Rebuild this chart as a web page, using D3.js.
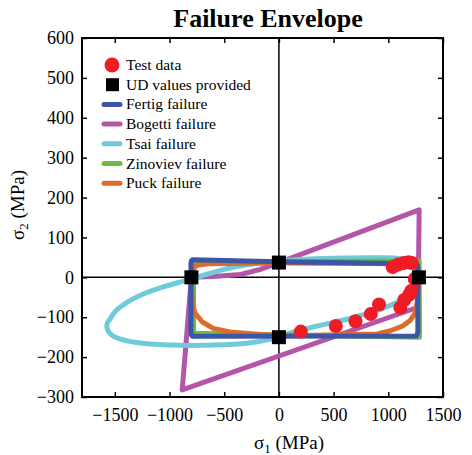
<!DOCTYPE html>
<html>
<head>
<meta charset="utf-8">
<script src="https://cdn.jsdelivr.net/npm/d3@7"></script>
<style>
    body { margin: 0; background: #fff; }
    text { font-family: "Liberation Serif", "Times New Roman", serif; fill: #000; }
</style>
</head>
<body>
<div id="chart"></div>
<script>
// data (MPa)
const testS1 = [200, 520, 700, 840, 915, 1110, 1145, 1190, 1210, 1242, 1040, 1090, 1140, 1185, 1215];
const testS2 = [-136, -122, -110, -92, -68, -76, -57, -44, -34, -4, 26, 32, 36, 38, 36];

const udS1 = [-800, 0, 0, 1280];
const udS2 = [0, 37, -150, 0];

const fertigS1 = [-790, 0, 1255, 1266, 1270, 1270, 1265, 1255, -790, -800, -804, -804, -800];
const fertigS2 = [44, 39, 34, 31, 24, -136, -143, -147, -148, -144, -136, 34, 41];

const bogettiS1 = [-800, -600, -350, -170, 0, 1282, 1272, -884];
const bogettiS2 = [0, 2, 7, 20, 37, 169, -75, -282];

const tsaiS1 = [1280, 1235, 1150, 1020, 820, 620, 320, 100, 0, -290, -676, -828, -1133, -1377, -1528,
    -1574, -1540, -1498, -1377, -1224, -1071, -920, -800, -500, -230, 0, 400, 900, 1100, 1200, 1255];
const tsaiS2 = [0, -30, -52, -70, -90, -105, -124, -140, -150, -165, -170, -171, -168, -160, -145,
    -120, -103, -86, -61, -40, -25, -13, -4, 20, 34, 41, 47, 49, 47, 38, 18];

const zinovievS1 = [-780, 1282, 1285, -780];
const zinovievS2 = [39, 41, -150, -140];

const puckS1 = [-800, -785, -750, -650, 0, 1200, 1265, 1276, 1272, 1265, 1245, 1200, 1130, 1020, 900, 0,
    -447, -600, -700, -765, -790, -800];
const puckS2 = [0, 22, 30, 34, 36, 34, 30, 0, -40, -60, -90, -108, -122, -134, -142, -147,
    -137, -128, -112, -90, -70, -30];

const xTicks = [-1500, -1000, -500, 0, 500, 1000, 1500];
const yTicks = [-300, -200, -100, 0, 100, 200, 300, 400, 500, 600];

const seriesNames = ["Test data", "UD values provided", "Fertig failure", "Bogetti failure",
    "Tsai failure", "Zinoviev failure", "Puck failure"];

// margin convention
const svgWidth = 472,
    svgHeight = 455,
    margin = { top: 38, right: 29, bottom: 58, left: 82 },
    width = svgWidth - margin.left - margin.right,
    height = svgHeight - margin.top - margin.bottom;

let svgRoot = d3.select("#chart").append("svg")
    .attr("width", svgWidth)
    .attr("height", svgHeight);
let svg = svgRoot.append("g")
    .attr("transform", `translate(${margin.left},${margin.top})`);

let xScale = d3.scaleLinear().domain([-1800, 1500]).range([0, width]);
let yScale = d3.scaleLinear().domain([-300, 600]).range([height, 0]);

// zero lines
svg.append("line")
    .attr("x1", 0).attr("x2", width)
    .attr("y1", yScale(0)).attr("y2", yScale(0))
    .attr("stroke", "#000").attr("stroke-width", 1.5);
svg.append("line")
    .attr("x1", xScale(0)).attr("x2", xScale(0))
    .attr("y1", 0).attr("y2", height)
    .attr("stroke", "#000").attr("stroke-width", 1.5);

// envelopes
const zipPts = (a, b) => a.map((v, i) => [v, b[i]]);
let lineClosed = d3.line()
    .x((d) => xScale(d[0]))
    .y((d) => yScale(d[1]))
    .curve(d3.curveLinearClosed);
let lineSmooth = d3.line()
    .x((d) => xScale(d[0]))
    .y((d) => yScale(d[1]))
    .curve(d3.curveCatmullRomClosed.alpha(0.5));

let curves = [
    { pts: zipPts(bogettiS1, bogettiS2), color: "#b456a8", gen: lineClosed },
    { pts: zipPts(tsaiS1, tsaiS2), color: "#6fcbdc", gen: lineSmooth },
    { pts: zipPts(zinovievS1, zinovievS2), color: "#6cbd45", gen: lineClosed },
    { pts: zipPts(puckS1, puckS2), color: "#dd6b2a", gen: lineClosed },
    { pts: zipPts(fertigS1, fertigS2), color: "#3b56a6", gen: lineClosed }
];
svg.selectAll("path.env")
    .data(curves)
    .join("path")
    .attr("class", "env")
    .attr("d", (d) => d.gen(d.pts))
    .attr("fill", "none")
    .attr("stroke", (d) => d.color)
    .attr("stroke-width", 5)
    .attr("stroke-linejoin", "round");

// test data
svg.selectAll("circle.test")
    .data(zipPts(testS1, testS2))
    .join("circle")
    .attr("class", "test")
    .attr("cx", (d) => xScale(d[0]))
    .attr("cy", (d) => yScale(d[1]))
    .attr("r", 7)
    .attr("fill", "#ee1c25");

// UD values
const sq = 14;
svg.selectAll("rect.ud")
    .data(zipPts(udS1, udS2))
    .join("rect")
    .attr("class", "ud")
    .attr("x", (d) => xScale(d[0]) - sq / 2)
    .attr("y", (d) => yScale(d[1]) - sq / 2)
    .attr("width", sq)
    .attr("height", sq)
    .attr("fill", "#000");

// axes, ticks inward on all four sides
svg.append("g")
    .attr("transform", `translate(0,${height})`)
    .call(d3.axisBottom(xScale).tickValues(xTicks).tickSize(-5).tickPadding(11).tickFormat(d3.format("d")));
svg.append("g")
    .call(d3.axisTop(xScale).tickValues(xTicks).tickSize(-5).tickFormat(""));
svg.append("g")
    .call(d3.axisLeft(yScale).tickValues(yTicks).tickSize(-5).tickPadding(8).tickFormat(d3.format("d")));
svg.append("g")
    .attr("transform", `translate(${width},0)`)
    .call(d3.axisRight(yScale).tickValues(yTicks).tickSize(-5).tickFormat(""));
svg.selectAll(".domain").remove();
svg.selectAll(".tick line").attr("stroke", "#000").attr("stroke-width", 1.5);
svg.selectAll(".tick text")
    .style("font-family", "'Liberation Serif', 'Times New Roman', serif")
    .style("font-size", "18px")
    .attr("fill", "#000");

// frame
svg.append("rect")
    .attr("width", width)
    .attr("height", height)
    .attr("fill", "none")
    .attr("stroke", "#000")
    .attr("stroke-width", 2);

// title and labels
svgRoot.append("text")
    .attr("x", 268)
    .attr("y", 27)
    .attr("text-anchor", "middle")
    .style("font-size", "26px")
    .style("font-weight", "bold")
    .text("Failure Envelope");

let xLabel = svgRoot.append("text")
    .attr("x", 289)
    .attr("y", 449)
    .attr("text-anchor", "middle")
    .style("font-size", "19px");
xLabel.append("tspan").text("σ");
xLabel.append("tspan").attr("dy", 4).style("font-size", "13px").text("1");
xLabel.append("tspan").attr("dy", -4).text(" (MPa)");

let yLabel = svgRoot.append("text")
    .attr("transform", "translate(24,205) rotate(-90)")
    .attr("text-anchor", "middle")
    .style("font-size", "19px");
yLabel.append("tspan").text("σ");
yLabel.append("tspan").attr("dy", 4).style("font-size", "13px").text("2");
yLabel.append("tspan").attr("dy", -4).text(" (MPa)");

// legend
let legend = svgRoot.append("g");
const legendColors = [null, null, "#3b56a6", "#b456a8", "#6fcbdc", "#6cbd45", "#dd6b2a"];
seriesNames.forEach((name, i) => {
    let yy = 65 + i * 19.7;
    if (i === 0) {
        legend.append("circle").attr("cx", 112).attr("cy", yy).attr("r", 7.5).attr("fill", "#ee1c25");
    } else if (i === 1) {
        legend.append("rect").attr("x", 106).attr("y", yy - 6.5).attr("width", 13).attr("height", 13).attr("fill", "#000");
    } else {
        legend.append("line")
            .attr("x1", 104).attr("x2", 120)
            .attr("y1", yy).attr("y2", yy)
            .attr("stroke", legendColors[i])
            .attr("stroke-width", 5)
            .attr("stroke-linecap", "round");
    }
    legend.append("text")
        .attr("x", 126)
        .attr("y", yy + 5)
        .style("font-size", "15.5px")
        .text(name);
});
</script>
</body>
</html>
